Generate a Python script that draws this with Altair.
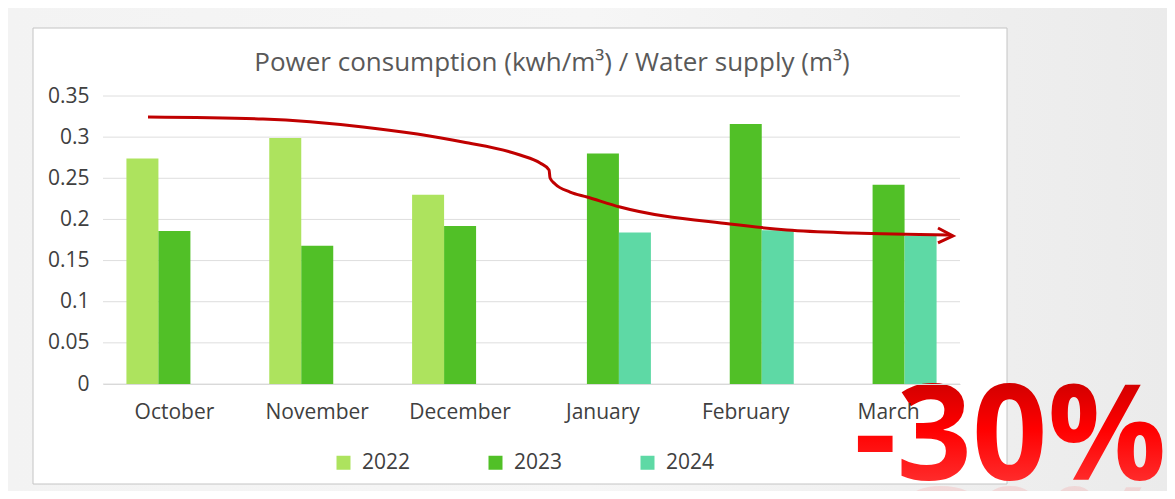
import altair as alt
import pandas as pd

# ---- data ----
months = ["October", "November", "December", "January", "February", "March"]
years = ["2022", "2023", "2024"]
v2022 = [0.274, 0.299, 0.230, None, None, None]
v2023 = [0.186, 0.168, 0.192, 0.280, 0.316, 0.242]
v2024 = [None, None, None, 0.184, 0.187, 0.180]
colors = ["#ADE35E", "#51C027", "#5ED9A5"]
yticks = [0, 0.05, 0.1, 0.15, 0.2, 0.25, 0.3, 0.35]

# hand-drawn trend arrow (x in month index units, y in chart value units)
arrow_x = [0.315, 1.120, 1.820, 2.520, 2.920, 3.060, 3.123, 3.130, 3.165, 3.270,
           3.389, 3.620, 4.390, 4.789, 5.251, 5.930]
arrow_y = [0.3245, 0.3220, 0.3123, 0.2941, 0.2783, 0.2686, 0.2601, 0.2503, 0.2431,
           0.2333, 0.2273, 0.2151, 0.1944, 0.1872, 0.1835, 0.1811]
head_x = [5.846, 5.951, 5.846]
head_y = [0.1896, 0.1799, 0.1714]

title_text = "Power consumption (kwh/m³) / Water supply (m³)"
badge_text = "-30%"

rows = []
for yr, vals in zip(years, [v2022, v2023, v2024]):
    for m, v in zip(months, vals):
        if v is not None:
            rows.append({"month": m, "year": yr, "value": v})
df = pd.DataFrame(rows)

W, H = 857, 288
PL, PT, PR, PB = 95, 88, 207, 107
FONT = "Open Sans"

yscale = alt.Scale(domain=[0, 0.35], nice=False, zero=True)
yaxis = alt.Axis(values=yticks, format="~g", grid=False, domain=False, ticks=False,
                 labelFontSize=21, labelColor="#404040", labelFont=FONT,
                 labelPadding=14, title=None, zindex=1)
y_enc = alt.Y("value:Q", scale=yscale, axis=yaxis)

one = alt.Data(values=[{}])

bg = alt.Chart(one).mark_rect(
    fill=alt.Gradient(gradient="linear", x1=0, y1=0, x2=1, y2=0,
                      stops=[alt.GradientStop(offset=0, color="#f3f3f3"),
                             alt.GradientStop(offset=0.5, color="#f6f6f6"),
                             alt.GradientStop(offset=1, color="#ebebeb")])
).encode(x=alt.value(-PL), x2=alt.value(W + PR), y=alt.value(-PT), y2=alt.value(H + PB))

box = alt.Chart(one).mark_rect(fill="white", stroke="#c4c4c4", strokeWidth=1).encode(
    x=alt.value(-70), x2=alt.value(904), y=alt.value(-68), y2=alt.value(388))

grid = alt.Chart(pd.DataFrame({"value": yticks})).mark_rule(
    color="#dedede", strokeWidth=1).encode(y=y_enc)

bars = alt.Chart(df).mark_bar().encode(
    x=alt.X("month:N", sort=months,
            scale=alt.Scale(paddingInner=0.328, paddingOuter=0.164),
            axis=alt.Axis(title=None, labelAngle=0, ticks=False, domainColor="#d9d9d9",
                          labelFontSize=21, labelColor="#404040", labelFont=FONT,
                          labelPadding=17, zindex=1)),
    xOffset=alt.XOffset("year:N", scale=alt.Scale(domain=years, paddingInner=0, paddingOuter=0)),
    y=y_enc,
    color=alt.Color("year:N", scale=alt.Scale(domain=years, range=colors),
                    legend=alt.Legend(orient="none", legendX=230, legendY=356,
                                      direction="horizontal", title=None,
                                      symbolType="square", symbolSize=196,
                                      symbolStrokeWidth=0, labelFontSize=21,
                                      labelColor="#404040", labelFont=FONT,
                                      labelOffset=8, columnPadding=74, padding=0)),
)

xq = alt.Scale(domain=[0, 6], nice=False, zero=False)
arrow = alt.Chart(pd.DataFrame({"ax": arrow_x, "value": arrow_y})).mark_line(
    color="#c00000", strokeWidth=3, interpolate="monotone").encode(
    x=alt.X("ax:Q", scale=xq, axis=None), y=y_enc)

head = alt.Chart(pd.DataFrame({"ax": head_x, "value": head_y, "idx": [0, 1, 2]})).mark_line(
    color="#c00000", strokeWidth=3, strokeJoin="miter").encode(
    x=alt.X("ax:Q", scale=xq, axis=None), y=y_enc, order=alt.Order("idx:Q"))

title = alt.Chart(one).mark_text(
    text=title_text, fontSize=26, font=FONT, color="#595959",
    align="center", baseline="alphabetic").encode(x=alt.value(449), y=alt.value(-25))

badge = alt.Chart(one).mark_text(
    text=badge_text, fontSize=132, fontWeight="bold", font=FONT,
    align="left", baseline="alphabetic",
    fill=alt.Gradient(gradient="linear", x1=0, y1=0, x2=0, y2=1,
                      stops=[alt.GradientStop(offset=0, color="#a80000"),
                             alt.GradientStop(offset=0.5, color="#ff0000"),
                             alt.GradientStop(offset=1, color="#ff4a4a")])
).encode(x=alt.value(751), y=alt.value(384))

reflection = alt.Chart(one).mark_text(
    text="%03-", fontSize=132, fontWeight="bold", font=FONT, angle=180,
    align="left", baseline="alphabetic", fill="#ff6060", opacity=0.15
).encode(x=alt.value(1064), y=alt.value(391))

chart = alt.layer(bg, box, grid, bars, arrow, head, title, badge, reflection).resolve_scale(
    x="independent"
).properties(
    width=W, height=H, autosize="none",
    padding={"left": PL, "top": PT, "right": PR, "bottom": PB},
    background="#f2f2f2",
).configure_view(stroke=None)

chart.save("out.html", embed_options={"renderer": "svg", "actions": False})
